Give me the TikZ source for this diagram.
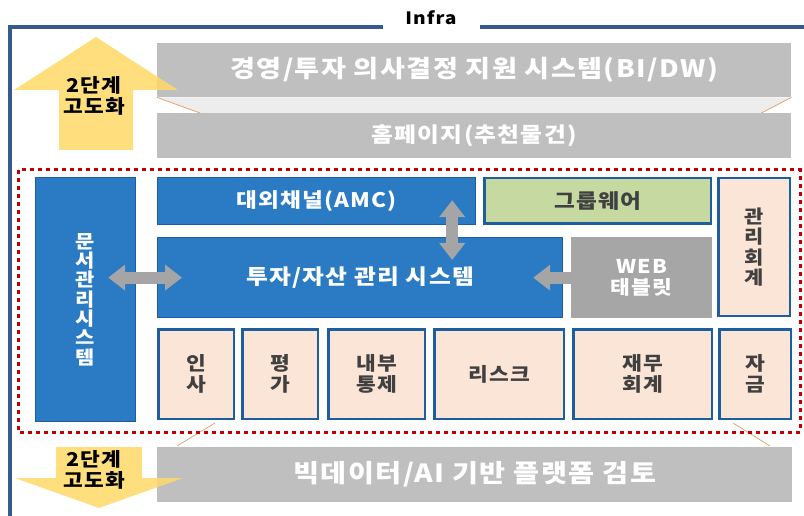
\documentclass[tikz,border=0pt]{standalone}
\usepackage{fontspec}
\setmainfont{Noto Sans CJK KR}[LetterSpace=6, FakeStretch=1.13]
\usetikzlibrary{positioning}
\usetikzlibrary{arrows.meta}
\usetikzlibrary{calc}

\definecolor{frameblue}{HTML}{38598F}
\definecolor{boxblue}{HTML}{2A7AC4}
\definecolor{edgeblue}{HTML}{1F5E9E}
\definecolor{peach}{HTML}{FBE5D6}
\definecolor{leaf}{HTML}{C5D9A1}
\definecolor{stone}{HTML}{BFBFBF}
\definecolor{slate}{HTML}{A6A6A6}
\definecolor{linkgray}{HTML}{A5A5A5}
\definecolor{dotred}{HTML}{C00000}
\definecolor{sun}{HTML}{FFD966}
\definecolor{ink}{HTML}{404040}
\definecolor{shelf}{HTML}{EDEDED}
\definecolor{seam}{HTML}{E2A676}

\newcommand{\fsz}[2]{\fontsize{#1}{#2}\selectfont\bfseries}

\tikzset{
	frame/.style={draw=frameblue, line width=3.5pt},
	sys/.style={draw=edgeblue, line width=1.2pt, fill=boxblue, text=white, anchor=north west, inner sep=0pt, align=center, font=\fsz{20}{24}},
	cell/.style={draw=edgeblue, line width=2.5pt, fill=peach, text=ink, anchor=north west, inner sep=0pt, align=center, font=\fsz{19}{20.5}},
	plat/.style={fill=stone, text=white, anchor=north west, inner sep=0pt, align=center, font=\fsz{24}{28}},
	link/.style={draw=linkgray, line width=12pt, {Triangle[width=25pt,length=17pt]}-{Triangle[width=25pt,length=17pt]}},
	pointer/.style={draw=linkgray, line width=12pt, -{Triangle[width=25pt,length=17pt]}},
	stage/.style={fill=sun, opacity=.85},
	dots/.style={draw=dotred, line width=3pt, dash pattern=on 4pt off 4pt}
}

\begin{document}
\begin{tikzpicture}[x=1pt,y=-1pt]
	\useasboundingbox (0,0) rectangle (804,516);

	% outer frame
	\draw[frame] (383,27) -- (10,27) -- (10,520);
	\draw[frame] (480,27) -- (808,27);
	\node[font=\fsz{17}{20}] (infra) at (431,18) {Infra};

	% upper platforms
	\node[plat, minimum width=634pt, minimum height=54pt] (bidw) at (157,43) {경영/투자 의사결정 지원 시스템(BI/DW)};
	\node[plat, minimum width=634pt, minimum height=45pt, font=\fsz{21}{24}] (home) at (157,113) {홈페이지(추천물건)};
	\fill[shelf] (bidw.south west) -- (bidw.south east) -- ([xshift=-30pt]home.north east) -- ([xshift=43pt]home.north west) -- cycle;
	\draw[seam, line width=.8pt] (bidw.south west) -- ([xshift=43pt]home.north west);
	\draw[seam, line width=.8pt] (bidw.south east) -- ([xshift=-30pt]home.north east);

	% lower platform
	\node[plat, minimum width=635pt, minimum height=55pt, font=\fsz{25}{28}] (bigdata) at (157,447) {빅데이터/AI 기반 플랫폼 검토};
	\draw[seam, line width=.8pt] (215,423) -- (177,446);
	\draw[seam, line width=.8pt] (733,423) -- (770,446);

	% stage arrows
	\fill[stage] (96,37) -- (178,90) -- (133,90) -- (133,150) -- (59,150) -- (59,90) -- (14,90) -- cycle;
	\fill[stage] (56,447) -- (142,447) -- (142,478) -- (183,478) -- (99,508) -- (15,478) -- (56,478) -- cycle;
	\node[font=\fsz{19}{21}, align=center] (up) at (94,96) {2단계\\고도화};
	\node[font=\fsz{19}{21}, align=center] (down) at (94,470) {2단계\\고도화};

	% core area
	\draw[dots] (18,170) rectangle (800,432);

	\node[sys, minimum width=100pt, minimum height=244pt, font=\fsz{18.5}{19.3}] (docs) at (35,177) {문\\서\\관\\리\\시\\스\\템};
	\node[sys, minimum width=318pt, minimum height=47pt] (amc) at (157,177) {대외채널(AMC)};
	\node[cell, minimum width=226.5pt, minimum height=45.5pt, fill=leaf, font=\fsz{20}{24}] (groupware) at (483,177) {그룹웨어};
	\node[cell, minimum width=71.5pt, minimum height=137.5pt, font=\fsz{18.5}{20.5}] (mgmt) at (717,177) {관\\리\\회\\계};
	\node[sys, minimum width=405pt, minimum height=80pt, font=\fsz{21}{24}] (invest) at (157,237) {투자/자산 관리 시스템};
	\node[plat, fill=slate, minimum width=141pt, minimum height=81pt, font=\fsz{19}{21}] (web) at (571,237) {WEB\\태블릿};

	\node[cell, minimum width=75.5pt, minimum height=89.5pt] (hr) at (157,328) {인\\사};
	\node[cell, minimum width=75.5pt, minimum height=89.5pt, right=6pt of hr] (eval) {평\\가};
	\node[cell, minimum width=96.5pt, minimum height=89.5pt, right=8pt of eval] (audit) {내부\\통제};
	\node[cell, minimum width=129.5pt, minimum height=89.5pt, right=7pt of audit] (risk) {리스크};
	\node[cell, minimum width=138.5pt, minimum height=89.5pt, right=7pt of risk] (fin) {재무\\회계};
	\node[cell, minimum width=71.5pt, minimum height=89.5pt, right=5pt of fin] (fund) {자\\금};

	% links
	\draw[link] ($(docs.east |- invest.west)+(-28,0)$) -- ($(invest.west)+(25,0)$);
	\draw[link] ($(amc.south east)+(-24,-25)$) -- ($(amc.south east |- invest.north)+(-24,23)$);
	\draw[pointer] (web.west) -- ($(invest.east |- web.west)+(-30,0)$);
\end{tikzpicture}
\end{document}
